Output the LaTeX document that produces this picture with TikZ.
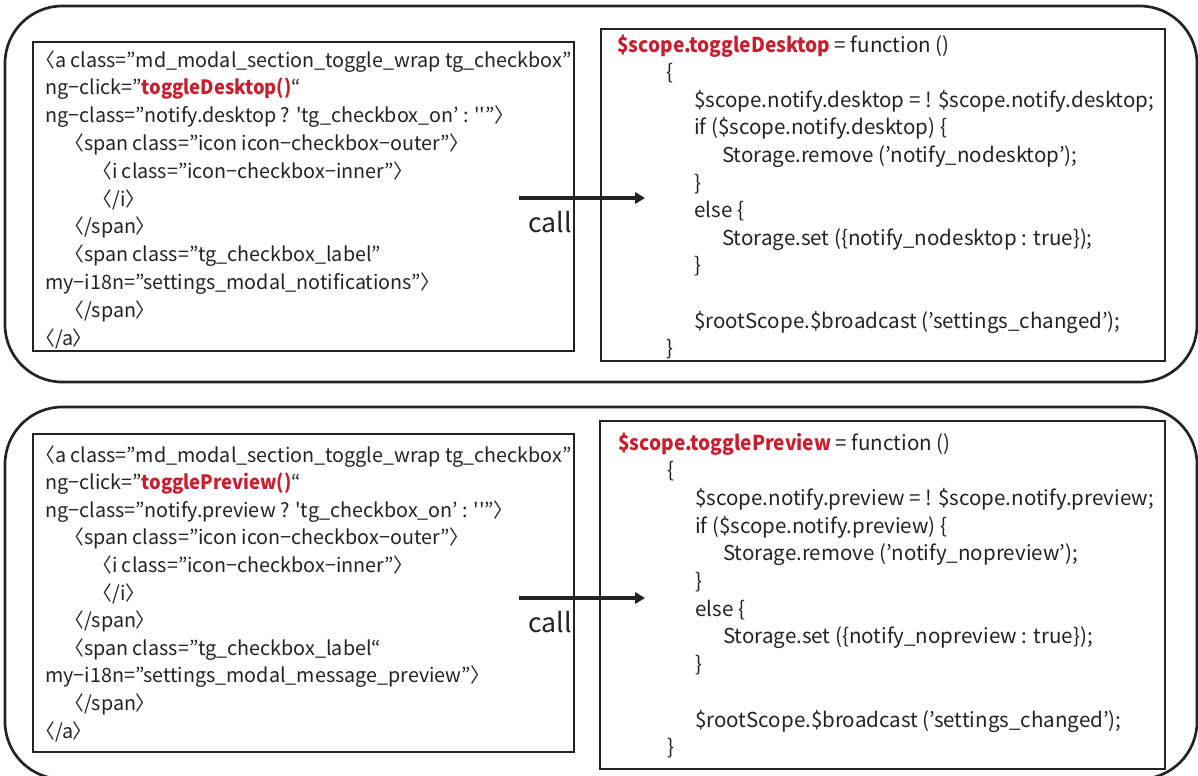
\documentclass[tikz,border=0pt]{standalone}
\usepackage{fontspec}
\usetikzlibrary{arrows.meta}
\newfontfamily\gothic[RawFeature=+palt]{Noto Sans CJK JP}
\newfontfamily\gothicnarrow[RawFeature=+palt, FakeStretch=0.93]{Noto Sans CJK JP}
\definecolor{codered}{RGB}{200,30,45}
\definecolor{ink}{RGB}{35,35,35}
\newcommand\hl[1]{{\gothicnarrow\bfseries\color{codered}#1}}
\tikzset{
  x=0.75pt, y=-0.75pt,
  outerbox/.style={draw=ink, line width=2pt, rounded corners=43pt},
  codebox/.style={draw=ink, line width=1.1pt},
  markup/.style={font=\gothic\fontsize{14.8}{18}\selectfont, text=ink, anchor=base west, inner sep=0pt},
  script/.style={font=\gothic\fontsize{15.4}{18}\selectfont, text=ink, anchor=base west, inner sep=0pt},
  calllabel/.style={font=\gothic\fontsize{20}{24}\selectfont, text=ink, anchor=base west, inner sep=0pt},
  callarrow/.style={draw=ink, line width=2.4pt, -{Triangle[length=7.5pt,width=8.5pt]}}
}
\begin{document}
\begin{tikzpicture}
\clip (0,0) rectangle (1198,775);
\fill[white] (0,0) rectangle (1198,775);

% ---------- desktop notifications ----------
\draw[outerbox] (5,6) rectangle (1197,382);
\draw[codebox] (33,42) rectangle (574,351);
\draw[codebox] (601,29) rectangle (1165,361);

\node[markup] (d1)  at (45,67)    {〈a class=”md\_modal\_section\_toggle\_wrap tg\_checkbox”};
\node[markup] (d2)  at (45,94.8)  {ng−click=”\hl{toggleDesktop()}“};
\node[markup] (d3)  at (45,122.6) {ng−class=”notify.desktop ? 'tg\_checkbox\_on’ : '{}'”〉};
\node[markup] (d4)  at (74,150.4) {〈span class=”icon icon−checkbox−outer”〉};
\node[markup] (d5)  at (102,178.2){〈i class=”icon−checkbox−inner”〉};
\node[markup] (d6)  at (102,206)  {〈/i〉};
\node[markup] (d7)  at (74,233.8) {〈/span〉};
\node[markup] (d8)  at (74,261.6) {〈span class=”tg\_checkbox\_label”};
\node[markup] (d9)  at (45,289.4) {my−i18n=”settings\_modal\_notifications”〉};
\node[markup] (d10) at (74,317.2) {〈/span〉};
\node[markup] (d11) at (45,345)   {〈/a〉};

\node[script] (f1)  at (617,52)    {\hl{\$scope.toggleDesktop} = function ()};
\node[script] (f2)  at (666,79.6)  {\{};
\node[script] (f3)  at (694,107.2) {\$scope.notify.desktop = ! \$scope.notify.desktop;};
\node[script] (f4)  at (694,134.8) {if (\$scope.notify.desktop) \{};
\node[script] (f5)  at (722,162.4) {Storage.remove (’notify\_nodesktop’);};
\node[script] (f6)  at (694,190)   {\}};
\node[script] (f7)  at (694,217.6) {else \{};
\node[script] (f8)  at (722,245.2) {Storage.set (\{notify\_nodesktop : true\});};
\node[script] (f9)  at (694,272.8) {\}};
\node[script] (f10) at (694,328)   {\$rootScope.\$broadcast (’settings\_changed’);};
\node[script] (f11) at (666,355.6) {\}};

\coordinate (ds) at (519,198);
\coordinate (de) at (645,198);
\draw[callarrow] (ds) -- (de);
\node[calllabel] (dcall) at (528,232) {call};

% ---------- message preview ----------
\draw[outerbox] (5,407) rectangle (1197,779);
\draw[codebox] (33,434) rectangle (574,752);
\draw[codebox] (600,421) rectangle (1165,769);

\node[markup] (p1)  at (45,462)   {〈a class=”md\_modal\_section\_toggle\_wrap tg\_checkbox”};
\node[markup] (p2)  at (45,489.6) {ng−click=”\hl{togglePreview()}“};
\node[markup] (p3)  at (45,517.2) {ng−class=”notify.preview ? 'tg\_checkbox\_on’ : '{}'”〉};
\node[markup] (p4)  at (74,544.8) {〈span class=”icon icon−checkbox−outer”〉};
\node[markup] (p5)  at (102,572.4){〈i class=”icon−checkbox−inner”〉};
\node[markup] (p6)  at (102,600)  {〈/i〉};
\node[markup] (p7)  at (74,627.6) {〈/span〉};
\node[markup] (p8)  at (74,655.2) {〈span class=”tg\_checkbox\_label“};
\node[markup] (p9)  at (45,682.8) {my−i18n=”settings\_modal\_message\_preview”〉};
\node[markup] (p10) at (74,710.4) {〈/span〉};
\node[markup] (p11) at (45,738)   {〈/a〉};

\node[script] (g1)  at (618,450)   {\hl{\$scope.togglePreview} = function ()};
\node[script] (g2)  at (667,477.7) {\{};
\node[script] (g3)  at (695,505.4) {\$scope.notify.preview = ! \$scope.notify.preview;};
\node[script] (g4)  at (695,533.1) {if (\$scope.notify.preview) \{};
\node[script] (g5)  at (723,560.8) {Storage.remove (’notify\_nopreview’);};
\node[script] (g6)  at (695,588.5) {\}};
\node[script] (g7)  at (695,616.2) {else \{};
\node[script] (g8)  at (723,643.9) {Storage.set (\{notify\_nopreview : true\});};
\node[script] (g9)  at (695,671.6) {\}};
\node[script] (g10) at (695,727)   {\$rootScope.\$broadcast (’settings\_changed’);};
\node[script] (g11) at (667,754.7) {\}};

\coordinate (ps) at (519,598);
\coordinate (pe) at (645,598);
\draw[callarrow] (ps) -- (pe);
\node[calllabel] (pcall) at (528,632) {call};
\end{tikzpicture}
\end{document}
